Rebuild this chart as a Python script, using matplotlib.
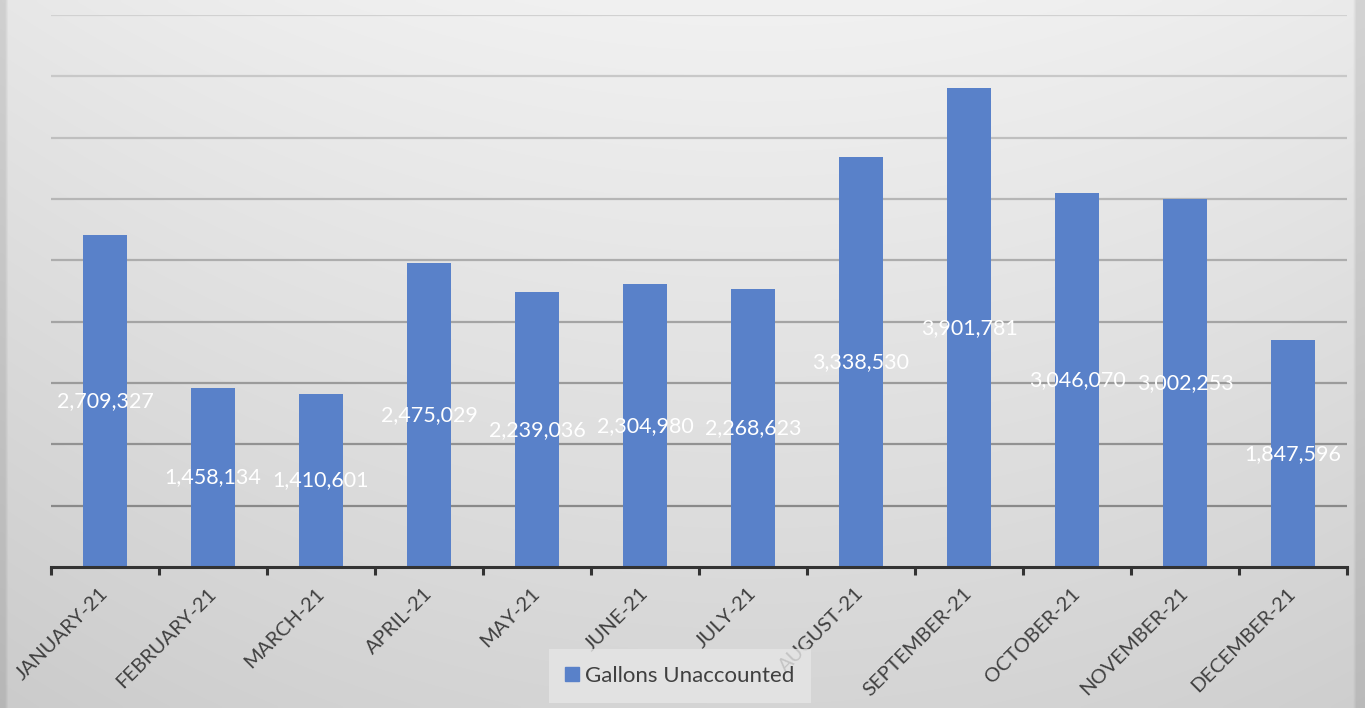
import numpy as np
import matplotlib
matplotlib.use("Agg")
import matplotlib.pyplot as plt
from matplotlib.patches import Patch

months = ["JANUARY-21", "FEBRUARY-21", "MARCH-21", "APRIL-21", "MAY-21", "JUNE-21",
          "JULY-21", "AUGUST-21", "SEPTEMBER-21", "OCTOBER-21", "NOVEMBER-21", "DECEMBER-21"]
gallons = [2709327, 1458134, 1410601, 2475029, 2239036, 2304980,
           2268623, 3338530, 3901781, 3046070, 3002253, 1847596]
series_name = "Gallons Unaccounted"

plt.rcParams['font.family'] = ['Lato', 'DejaVu Sans']

W, H = 1365, 708
fig = plt.figure(figsize=(W / 100, H / 100), dpi=100)

# background gradient
bg = fig.add_axes([0, 0, 1, 1], zorder=-10)
yy = np.linspace(0, 1, 200)[:, None]   # 0 top -> 1 bottom
xx = np.linspace(0, 1, 400)[None, :]
val = 0.945 - 0.11 * yy - 0.05 * (np.abs(xx - 0.55) * 1.6) ** 2
val = np.clip(val, 0, 1)
img = np.dstack([val, val, val])
img[:, :2, :] *= 0.9
img[:, -3:, :] *= 0.9
bg.imshow(img, aspect='auto', extent=[0, 1, 0, 1], origin='upper', interpolation='bilinear')
bg.set_axis_off()

left, right = 51 / W, 1347 / W
bottom, top = (H - 567) / H, (H - 15) / H
ax = fig.add_axes([left, bottom, right - left, top - bottom])
ax.set_facecolor('none')

x = np.arange(len(months))
ax.bar(x, gallons, width=0.4, color='#5981c9', zorder=3, label=series_name)

ax.set_xlim(-0.5, len(months) - 0.5)
ax.set_ylim(0, 4500000)

# gridlines, darker toward the bottom
for v in np.arange(500000, 4500001, 500000):
    frac = v / 4500000
    g = 0.50 + 0.32 * frac
    ax.axhline(v, color=(g, g, g), lw=1.6, zorder=1)

for s in ['top', 'right', 'left']:
    ax.spines[s].set_visible(False)
ax.spines['bottom'].set_color('#333333')
ax.spines['bottom'].set_linewidth(2.2)
ax.spines['bottom'].set_zorder(4)
ax.set_yticks([])

# ticks between categories
ax.set_xticks(np.arange(-0.5, len(months), 1.0))
ax.set_xticklabels([])
ax.tick_params(axis='x', which='major', length=6, width=2.2, color='#333333', direction='out')
ax.set_xticks(x, minor=True)
ax.set_xticklabels(months, minor=True, rotation=45, ha='right', va='center',
                   rotation_mode='anchor', fontsize=14.5, color='#404040')
ax.tick_params(axis='x', which='minor', length=0, pad=17)

for xi, v in zip(x, gallons):
    ax.text(xi, v / 2, f"{v:,}", ha='center', va='center', color='white',
            fontsize=15.5, zorder=5)

leg = fig.legend(handles=[Patch(color='#5981c9', label=series_name)],
                 loc='center', bbox_to_anchor=(680 / W, (H - 676) / H),
                 frameon=True, fontsize=16, handlelength=0.6, handleheight=0.6,
                 handletextpad=0.3, borderpad=0.75, labelcolor='#404040')
leg.get_frame().set_facecolor('#e6e6e6')
leg.get_frame().set_edgecolor('none')
leg.get_frame().set_boxstyle('square', pad=0.0)

fig.savefig('out.png', dpi=100)
